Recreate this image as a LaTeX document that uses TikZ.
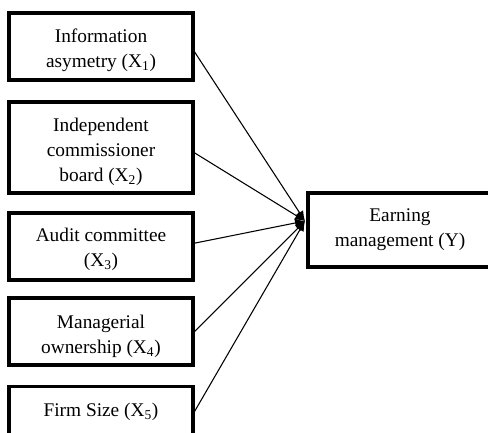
\documentclass[tikz,border=0pt]{standalone}
\usepackage{fontspec}
\setmainfont{Liberation Serif}
\usetikzlibrary{arrows.meta}
\begin{document}
\begin{tikzpicture}[x=0.75pt,y=-0.75pt,
  varbox/.style={draw=black,line width=2.3pt,inner sep=0pt,minimum width=138pt},
  txt/.style={align=center,inner sep=0pt,font=\fontsize{14.5}{18.75}\selectfont},
  link/.style={line width=0.8pt,-{Latex[length=7.5pt,width=6.5pt]}}]
\useasboundingbox (0,0) rectangle (488,432);
\node[varbox,minimum height=50.25pt] (x1) at (101,46.5) {};
\node[varbox,minimum height=68.25pt] (x2) at (101,147.5) {};
\node[varbox,minimum height=50.25pt] (x3) at (101,246.5) {};
\node[varbox,minimum height=50.25pt] (x4) at (101,331.5) {};
\node[varbox,minimum height=37.5pt] (x5) at (101,411.5) {};
\node[varbox,minimum height=55.5pt] (y) at (400,230) {};
\node[txt] (t1) at ([yshift=-3pt]x1.center) {Information\\asymetry (X\textsubscript{1})};
\node[txt] (t2) at ([yshift=-3pt]x2.center) {Independent\\commissioner\\board (X\textsubscript{2})};
\node[txt] (t3) at ([yshift=-2.5pt]x3.center) {Audit committee\\(X\textsubscript{3})};
\node[txt] (t4) at ([yshift=-3.5pt]x4.center) {Managerial\\ownership (X\textsubscript{4})};
\node[txt] (t5) at (x5.center) {Firm Size (X\textsubscript{5})};
\node[txt] (ty) at (y.center) {Earning\\management (Y)};
\coordinate (hub) at (305,221);
\draw[link] ([yshift=-4pt]x1.east) -- (hub);
\draw[link] ([yshift=-4pt]x2.east) -- (hub);
\draw[link] ([yshift=2.5pt]x3.east) -- (hub);
\draw[link] (x4.east) -- (hub);
\draw[link] (x5.east) -- (hub);
\end{tikzpicture}
\end{document}
